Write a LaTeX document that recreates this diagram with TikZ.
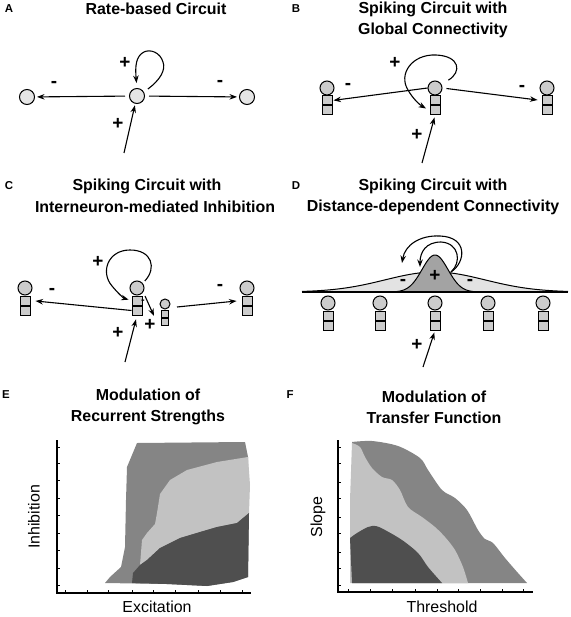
\documentclass[tikz,border=0pt]{standalone}
\usepackage{fontspec}
\setmainfont{Liberation Sans}
\usetikzlibrary{arrows.meta,calc}
\newcommand{\spkn}[3]{%
  \node[soma] (#1) at (#2,#3) {};
  \node[dend, anchor=north] (#1a) at (#1.south) {};
  \node[dend, anchor=north] (#1b) at (#1a.south) {};}
\newcommand{\intn}[3]{%
  \node[isoma] (#1) at (#2,#3) {};
  \node[idend, anchor=north] (#1a) at (#1.south) {};
  \node[idend, anchor=north] (#1b) at (#1a.south) {};}
\begin{document}
\begin{tikzpicture}[x=1bp,y=-1bp,
  ttl/.style={font=\bfseries\fontsize{16}{21}\selectfont, align=center, inner sep=0},
  plab/.style={font=\bfseries\fontsize{11.5}{13}\selectfont, inner sep=0},
  sgn/.style={font=\bfseries\fontsize{19}{19}\selectfont, inner sep=0},
  ssgn/.style={font=\bfseries\fontsize{11}{11}\selectfont, inner sep=0},
  axl/.style={font=\fontsize{16}{18}\selectfont, inner sep=0},
  arr/.style={line width=1.1bp, -{Stealth[length=7.5bp,width=5.5bp]}},
  rsoma/.style={circle, draw, line width=1bp, fill=black!10, minimum size=15bp, inner sep=0},
  soma/.style={circle, draw, line width=1bp, fill=black!20, minimum size=14bp, inner sep=0},
  dend/.style={rectangle, draw, line width=1bp, fill=black!20, minimum width=10bp, minimum height=9bp, inner sep=0},
  isoma/.style={soma, minimum size=10bp},
  idend/.style={dend, minimum width=7bp, minimum height=7bp},
  axln/.style={line width=1.3bp},
  tk/.style={line width=0.8bp},
  midg/.style={fill=black!48},
  ltg/.style={fill=black!24},
  dkg/.style={fill=black!69},
]
\useasboundingbox (0,0) rectangle (571,617);

% ---------- Panel A ----------
\node[plab] (lA) at (9,9) {A};
\node[ttl] (tA) at (156,9) {Rate-based Circuit};
\node[rsoma] (a1) at (27,97) {};
\node[rsoma] (a0) at (137,96) {};
\node[rsoma] (a2) at (247,97) {};
\draw[arr, shorten <=4bp, shorten >=2bp] (a0) -- (a1);
\draw[arr, shorten <=4bp, shorten >=2bp] (a0) -- (a2);
\draw[arr, shorten <=5bp, shorten >=5bp] (a0.30) .. controls (160,80) and (166,70) .. (163,62)
  .. controls (160,52) and (150,49) .. (144,52) .. controls (136,56) and (135,66) .. (a0.north);
\coordinate (ain) at (124,153);
\draw[arr, shorten >=1.5bp] (ain) -- (a0);
\node[sgn] (mA1) at (54,84) {-};
\node[sgn] (mA2) at (220,83) {-};
\node[sgn] (pA1) at (125,63) {+};
\node[sgn] (pA2) at (118,124) {+};

% ---------- Panel B ----------
\node[plab] (lB) at (296,9) {B};
\node[ttl] (tB) at (433,20) {Spiking Circuit with\\Global Connectivity};
\spkn{b1}{327}{88}
\spkn{b0}{435}{88}
\spkn{b2}{547}{88}
\draw[arr, shorten >=1bp] (b0.west) -- (b1a.east);
\draw[arr, shorten <=4bp, shorten >=4bp] (b0.east) -- (b2a.west);
\draw[arr, shorten <=8bp, shorten >=4bp] (b0.30) .. controls (462,72) and (460,56) .. (436,55)
  .. controls (412,54) and (398,74) .. (408,90) .. controls (413,99) and (420,105) .. (b0b.west);
\coordinate (bin) at (422,163);
\draw[arr, shorten >=2bp] (bin) -- (b0b.south);
\node[sgn] (mB1) at (348,86) {-};
\node[sgn] (mB2) at (522,88) {-};
\node[sgn] (pB1) at (395,63) {+};
\node[sgn] (pB2) at (417,135) {+};

% ---------- Panel C ----------
\node[plab] (lC) at (9,186) {C};
\node[ttl] (tC1) at (147,186) {Spiking Circuit with};
\node[ttl] (tC2) at (155,207) {Interneuron-mediated Inhibition};
\spkn{c1}{25}{288}
\spkn{c0}{137}{288}
\spkn{c2}{247}{288}
\intn{ci}{165}{304}
\draw[arr, shorten >=5bp] (c0b.west) -- (c1a.east);
\coordinate (cst) at (145,296);
\coordinate (ctp) at (154,316);
\draw[arr] (cst) -- (ctp);
\coordinate (cis) at (177,307);
\draw[arr, shorten >=5bp] (cis) -- (c2a.west);
\draw[arr, shorten <=3bp, shorten >=3bp] (c0.40) .. controls (157,268) and (152,250) .. (130,250)
  .. controls (108,250) and (100,272) .. (112,286) .. controls (117,292) and (123,298) .. (c0a.west);
\coordinate (cin) at (125,362);
\draw[arr, shorten >=4bp] (cin) -- (c0b.south);
\node[sgn] (mC1) at (52,291) {-};
\node[sgn] (mC2) at (220,287) {-};
\node[ssgn] (mC3) at (143,302) {-};
\node[sgn] (pC1) at (98,262) {+};
\node[sgn] (pC2) at (118,333) {+};
\node[sgn] (pC3) at (150,325) {+};

% ---------- Panel D ----------
\node[plab] (lD) at (296,186) {D};
\node[ttl] (tD) at (433,197) {Spiking Circuit with\\Distance-dependent Connectivity};
\fill[black!11] plot[domain=302:568, samples=120] (\x,{292-20*exp(-0.5*((\x-435)/50)^2)}) -- cycle;
\draw[line width=1bp] plot[domain=302:568, samples=120] (\x,{292-20*exp(-0.5*((\x-435)/50)^2)});
\filldraw[fill=black!36, line width=1bp] plot[domain=393:477, samples=80] (\x,{292-37*exp(-0.5*((\x-435)/13)^2)}) -- cycle;
\draw[line width=1.6bp] (302,292) -- (568,292);
\spkn{d1}{328}{303}
\spkn{d2}{380}{303}
\spkn{d0}{435}{303}
\spkn{d3}{488}{303}
\spkn{d4}{543}{303}
\coordinate (dsh) at (451,272);
\coordinate (dt1) at (402,263);
\coordinate (dt2) at (420,267);
\draw[arr] (dsh) .. controls (466,262) and (468,237) .. (440,236) .. controls (420,235) and (405,245) .. (dt1);
\draw[arr] (dsh) .. controls (462,262) and (459,243) .. (441,242) .. controls (426,242) and (420,252) .. (dt2);
\coordinate (din) at (423,367);
\draw[arr, shorten >=2bp] (din) -- (d0b.south);
\node[sgn] (mD1) at (403,282) {-};
\node[sgn] (mD2) at (470,282) {-};
\node[sgn] (pD1) at (435,276) {+};
\node[sgn] (pD2) at (417,345) {+};

% ---------- Panel E ----------
\node[plab] (lE) at (6,395) {E};
\node[ttl] (tE) at (148,407) {Modulation of\\Recurrent Strengths};
\fill[midg] (105,583) -- (110,577) -- (121,567) -- (125,547) -- (126,500) -- (127,467) -- (137,443)
  -- (245,442) -- (248,457) -- (249,513) -- (248,577) -- (233,582) -- (207,586) -- (167,584) -- cycle;
\fill[ltg] (140,565) -- (142,540) -- (147,533) -- (155,524) -- (157,513) -- (160,494) -- (170,480)
  -- (187,470) -- (217,462) -- (248,457) -- (250,485) -- (249,513) -- (237,523) -- (217,527)
  -- (200,532) -- (180,538) -- (160,548) -- (147,560) -- cycle;
\fill[dkg] (132,583) -- (133,573) -- (140,565) -- (147,560) -- (160,548) -- (180,538) -- (200,532)
  -- (217,527) -- (237,523) -- (249,513) -- (248,577) -- (233,582) -- (207,586) -- (167,584) -- cycle;
\draw[axln] (57,440) -- (57,593) -- (251,593);
\foreach \t in {447,463,480,498,515,533,550,568,585} \draw[tk] (57,\t) -- (60,\t);
\foreach \t in {65,87,108,132,153,175,198,220,242} \draw[tk] (\t,593) -- (\t,590);
\node[axl, rotate=90] (yE) at (34,517) {Inhibition};
\node[axl] (xE) at (157,607) {Excitation};

% ---------- Panel F ----------
\node[plab] (lF) at (290,395) {F};
\node[ttl] (tF) at (434,407) {Modulation of\\Transfer Function};
\fill[midg] plot[smooth, tension=0.5] coordinates {(352,442) (372,441) (398,446) (420,458) (428,470)
  (442,490) (455,498) (467,510) (478,530) (485,539) (493,543) (505,558) (518,573) (527,583)}
  -- (352,583) -- cycle;
\fill[ltg] plot[smooth, tension=0.5] coordinates {(352,443) (360,447) (365,457) (372,468) (382,477)
  (392,480) (400,490) (408,507) (422,517) (435,527) (445,537) (455,550) (463,567) (468,583)}
  -- (350,583) -- (350,500) -- cycle;
\fill[dkg] plot[smooth, tension=0.5] coordinates {(350,538) (357,533) (368,527) (376,526) (385,530)
  (402,540) (418,553) (428,567) (442,583)} -- (352,583) -- cycle;
\draw[axln] (338,440) -- (338,592) -- (533,592);
\foreach \t in {447,463,482,498,517,533,552,568,585} \draw[tk] (338,\t) -- (341,\t);
\foreach \t in {348,370,392,415,437,458,480,502,523} \draw[tk] (\t,592) -- (\t,589);
\node[axl, rotate=90] (yF) at (318,517) {Slope};
\node[axl] (xF) at (442,607) {Threshold};
\end{tikzpicture}
\end{document}
